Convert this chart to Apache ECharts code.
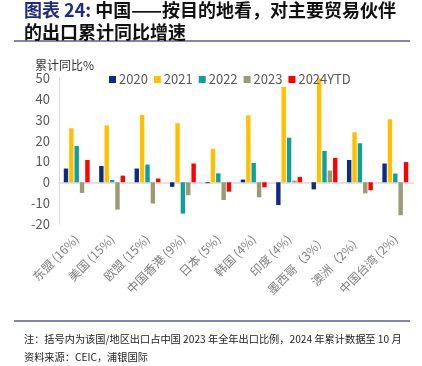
<!DOCTYPE html>
<html>
<head>
<meta charset="utf-8">
<script src="https://cdn.jsdelivr.net/npm/echarts@6/dist/echarts.min.js"></script>
<style>
  html, body { margin: 0; padding: 0; background: #fff; }
  #chart { width: 422px; height: 366px; }
</style>
</head>
<body>
<div id="chart"></div>
<script>
const categories = ["东盟 (16%)", "美国 (15%)", "欧盟 (15%)", "中国香港 (9%)", "日本 (5%)",
  "韩国 (4%)", "印度 (4%)", "墨西哥（3%）", "澳洲（2%）", "中国台湾 (2%)"];
const seriesNames = ["2020", "2021", "2022", "2023", "2024YTD"];
const v2020 = [6.6, 7.8, 6.6, -2.2, -0.4, 1.3, -10.9, -3.4, 10.7, 9.0];
const v2021 = [25.9, 27.3, 32.3, 28.3, 16.1, 32.1, 45.8, 49.8, 24.0, 30.2];
const v2022 = [17.4, 1.1, 8.5, -15.0, 4.3, 9.3, 21.4, 15.0, 18.7, 4.2];
const v2023 = [-5.1, -13.1, -10.2, -6.2, -8.5, -7.2, 0.8, 5.6, -5.3, -15.8];
const v2024 = [10.7, 3.2, 1.8, 9.0, -4.5, -2.4, 2.6, 11.7, -3.8, 9.7];
const colors = ["#0c2c84", "#ffc000", "#0fa09a", "#9a9a74", "#ff0000"];
const yTicks = { min: -20, max: 50, interval: 10 };

const font = "'Noto Sans CJK SC', 'Noto Sans', sans-serif";
const chart = echarts.init(document.getElementById("chart"));

const values = [v2020, v2021, v2022, v2023, v2024];
const series = seriesNames.map((name, i) => ({
  name,
  type: "bar",
  data: values[i],
  barWidth: 4.4,
  barGap: "22%",
  itemStyle: { color: colors[i] },
}));

chart.setOption({
  animation: false,
  textStyle: { fontFamily: font },
  title: {
    left: 24,
    top: -1,
    padding: 0,
    text: "{a|图表 24:} 中国——按目的地看，对主要贸易伙伴\n的出口累计同比增速",
    textStyle: {
      fontSize: 18,
      fontWeight: "bold",
      color: "#111",
      lineHeight: 22,
      fontFamily: font,
      rich: {
        a: { color: "#1f2a80", fontSize: 18, fontWeight: "bold", fontFamily: font, lineHeight: 22 },
      },
    },
  },
  legend: {
    top: 68,
    left: 104,
    itemWidth: 7,
    itemHeight: 7,
    itemGap: 6,
    icon: "rect",
    textStyle: { color: "#595959", fontSize: 13, padding: [0, 0, 0, -2] },
    data: seriesNames,
  },
  graphic: [
    { type: "line", shape: { x1: 14, y1: 41, x2: 410, y2: 41 }, style: { stroke: "#5c5c94", lineWidth: 1.5 } },
    { type: "line", shape: { x1: 14, y1: 321, x2: 410, y2: 321 }, style: { stroke: "#5c5c94", lineWidth: 1.5 } },
    { type: "text", left: 24, top: 334, style: { text: "注：括号内为该国/地区出口占中国 2023 年全年出口比例，2024 年累计数据至 10 月", fill: "#222", fontSize: 10.2, fontFamily: font } },
    { type: "text", left: 24, top: 352, style: { text: "资料来源：CEIC，浦银国际", fill: "#222", fontSize: 10.2, fontFamily: font } },
  ],
  grid: { left: 59, right: 9, top: 78, bottom: 142 },
  xAxis: {
    type: "category",
    data: categories,
    axisLine: { onZero: true, lineStyle: { color: "#d9d9d9", width: 1.5 } },
    axisTick: { show: false },
    axisLabel: { rotate: 45, color: "#7f7f7f", fontSize: 12, margin: 13, interval: 0 },
  },
  yAxis: {
    type: "value",
    min: yTicks.min,
    max: yTicks.max,
    interval: yTicks.interval,
    name: "累计同比%",
    nameLocation: "end",
    nameGap: 6,
    nameTextStyle: { color: "#333", fontSize: 12, align: "left", padding: [0, 0, 0, -24] },
    axisLine: { show: true, lineStyle: { color: "#d9d9d9" } },
    axisTick: { show: false },
    axisLabel: { color: "#595959", fontSize: 13, margin: 9 },
    splitLine: { show: false },
  },
  series,
});
</script>
</body>
</html>
